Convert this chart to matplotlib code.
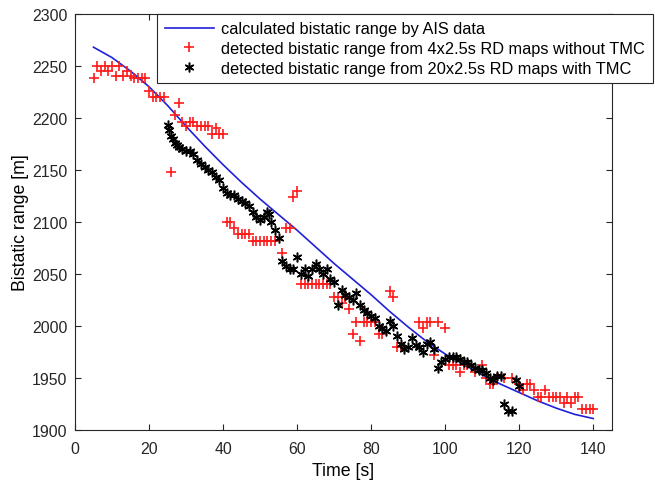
import matplotlib
matplotlib.use("Agg")
import matplotlib.pyplot as plt

plt.rcParams['font.family'] = ['Liberation Sans', 'DejaVu Sans']

# AIS-based calculated bistatic range
ais_t = [5, 10, 15, 20, 25, 30, 35, 40, 45, 50, 55, 60, 65, 70, 75, 80, 85, 90,
         95, 100, 105, 110, 115, 120, 125, 130, 135, 140]
ais_r = [2268, 2258, 2245, 2230, 2212, 2192, 2173, 2155, 2138, 2122, 2107, 2092,
         2076, 2060, 2045, 2030, 2014, 1999, 1985, 1973, 1963, 1953, 1944, 1936,
         1928, 1921, 1915, 1911]

# detected without TMC (red +)
red_t = [5, 6, 7, 8, 9, 10, 11, 12, 13, 14, 15, 16, 17, 18, 19, 20, 21, 22, 23, 24,
         26, 27, 28, 29, 30, 31, 32, 33, 34, 35, 36, 37, 38, 39, 40,
         41, 42, 43, 44, 45, 46, 47, 48, 49, 50, 51, 52, 53, 54, 56, 57, 58, 59, 60,
         61, 62, 63, 64, 65, 66, 67, 68, 69, 70, 71, 72, 73, 74, 75, 76, 77, 78, 79,
         80, 81, 82, 83, 85, 86, 87, 88, 93, 94, 95, 96, 98, 97, 100, 101, 102, 103,
         104, 105, 106, 108, 110, 111, 112, 113, 114, 116, 118, 120, 121, 122, 123,
         124, 125, 126, 127, 128, 129, 130, 131, 132, 133, 134, 135, 136, 137, 138,
         139, 140]
red_r = [2238, 2250, 2245, 2250, 2245, 2250, 2240, 2250, 2240, 2245, 2240, 2238, 2238,
         2238, 2238, 2226, 2220, 2220, 2220, 2220,
         2148, 2203, 2214, 2196, 2192, 2196, 2196, 2192, 2192, 2192, 2192, 2185, 2190,
         2185, 2185,
         2100, 2100, 2094, 2088, 2088, 2088, 2088, 2082, 2082, 2082, 2082, 2082, 2082,
         2082, 2070, 2094, 2094, 2124, 2130,
         2040, 2040, 2040, 2040, 2040, 2040, 2040, 2040, 2040, 2028, 2028, 2022, 2028,
         2016, 1992, 2004, 1986, 2004, 2004,
         2004, 2004, 1992, 1992, 2034, 2028, 1980, 1980, 2004, 1998, 2004, 2004, 2004,
         1972, 1998, 1962, 1962, 1962,
         1956, 1962, 1962, 1956, 1962, 1950, 1944, 1944, 1950, 1950, 1950, 1944, 1938,
         1944, 1944,
         1938, 1932, 1932, 1938, 1932, 1932, 1932, 1932, 1926, 1932, 1926, 1932, 1932,
         1920, 1920, 1920, 1920]

# detected with TMC (black *)
blk_t = [25, 25.5, 26, 26.5, 27, 27.5, 28, 29, 30, 31, 32, 33, 34, 35, 36, 37, 38, 39,
         40, 41, 42, 43, 44, 45, 46, 47, 48, 49, 50, 51, 52, 52.5, 53, 54, 55,
         56, 57, 58, 59, 60, 61, 62, 63, 64, 65, 66, 67, 68, 69, 70, 71, 72, 73, 74,
         75, 76, 77, 78, 79, 80, 81, 82, 83, 84, 85, 86, 87, 88, 89, 90, 91, 92, 93,
         94, 95, 96, 97, 98, 99, 100, 101, 102, 103, 104, 105, 106, 107, 108, 109,
         110, 111, 112, 113, 114, 115, 116, 117, 118, 119, 120]
blk_r = [2193, 2188, 2183, 2180, 2176, 2174, 2172, 2170, 2168, 2168, 2165, 2160, 2156,
         2153, 2150, 2148, 2143, 2140, 2133, 2128, 2126, 2126, 2122, 2120, 2118, 2115,
         2110, 2105, 2102, 2105, 2110, 2108, 2100, 2092, 2085,
         2062, 2058, 2055, 2055, 2066, 2050, 2055, 2048, 2055, 2060, 2055, 2050, 2055,
         2045, 2042, 2020, 2035, 2030, 2028,
         2025, 2032, 2020, 2015, 2012, 2010, 2008, 2000, 1998, 1995, 2005, 2000, 1990,
         1983, 1978, 1980, 1988, 1982, 1980,
         1975, 1983, 1985, 1978, 1960, 1965, 1968, 1970, 1970, 1970, 1968, 1965, 1965,
         1962, 1960, 1958,
         1958, 1955, 1950, 1948, 1952, 1952, 1925, 1918, 1918, 1948, 1942]

fig = plt.figure(figsize=(6.55, 4.81), dpi=100)
ax = fig.add_axes([0.1145, 0.104, 0.8195, 0.865])

ax.plot(ais_t, ais_r, color='#2020d8', lw=1.2,
        label='calculated bistatic range by AIS data')
ax.plot(red_t, red_r, linestyle='none', marker='+', color='#ff1a1a', ms=7.5, mew=1.2,
        label='detected bistatic range from 4x2.5s RD maps without TMC')
ax.plot(blk_t, blk_r, linestyle='none', marker=(6, 2, 0), color='black', ms=7, mew=1.1,
        label='detected bistatic range from 20x2.5s RD maps with TMC')

ax.set_xlim(0, 145)
ax.set_ylim(1900, 2300)
ax.set_xticks([0, 20, 40, 60, 80, 100, 120, 140])
ax.set_yticks(range(1900, 2301, 50))
ax.tick_params(direction='in', top=True, right=True, labelsize=11.4, length=4,
               colors='#262626')
ax.tick_params(axis='x', pad=8)
ax.tick_params(axis='y', pad=5.5)
for s in ax.spines.values():
    s.set_color('#262626')
    s.set_linewidth(0.8)
ax.set_xlabel('Time [s]', fontsize=12.8, labelpad=4)
ax.set_ylabel('Bistatic range [m]', fontsize=12.8, labelpad=2)

leg = ax.legend(loc='upper right', bbox_to_anchor=(1.076, 1.0), fontsize=11.8,
                frameon=True, fancybox=False, edgecolor='#262626', framealpha=1,
                borderaxespad=0, handlelength=3.0, handletextpad=0.45,
                borderpad=0.45, labelspacing=0.3)
leg.get_frame().set_linewidth(0.8)

fig.savefig('out.png', dpi=100)
